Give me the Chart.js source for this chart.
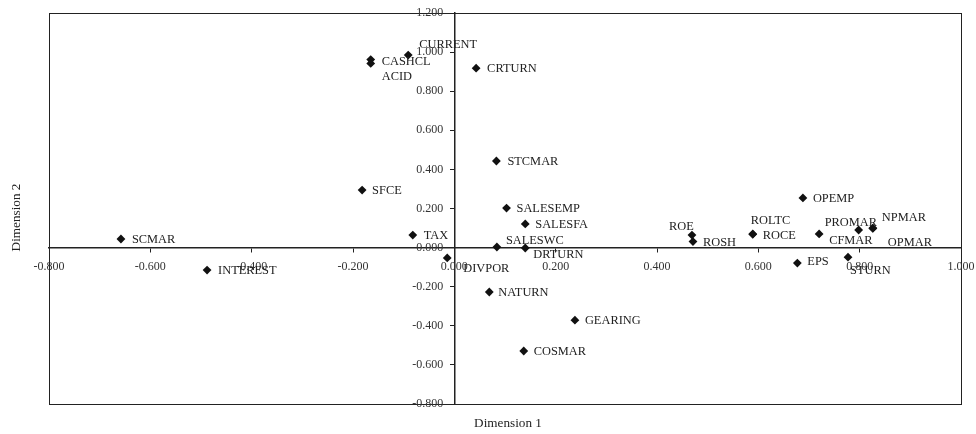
<!DOCTYPE html>
<html>
<head>
<meta charset="utf-8">
<script src="https://cdn.jsdelivr.net/npm/chart.js@4/dist/chart.umd.min.js"></script>
<style>
html,body{margin:0;padding:0;background:#fff;}
#wrap{width:976px;height:434px;}
</style>
</head>
<body>
<div id="wrap"><canvas id="c" width="976" height="434"></canvas></div>
<script>
// ---- data ----
const names = ["SCMAR","INTEREST","SFCE","TAX","CASHCL","ACID","CURRENT","CRTURN","DIVPOR","STCMAR","SALESEMP","SALESFA","SALESWC","DRTURN","NATURN","GEARING","COSMAR","ROE","ROSH","ROLTC","ROCE","OPEMP","CFMAR","PROMAR","NPMAR","OPMAR","EPS","STURN"];
const dim1 = [-0.658,-0.488,-0.182,-0.082,-0.165,-0.165,-0.091,0.043,-0.014,0.083,0.103,0.140,0.084,0.140,0.069,0.238,0.137,0.469,0.471,0.589,0.589,0.688,0.720,0.798,0.826,0.826,0.677,0.777];
const dim2 = [0.044,-0.115,0.294,0.064,0.962,0.942,0.985,0.918,-0.053,0.443,0.202,0.121,0.003,-0.002,-0.227,-0.371,-0.529,0.064,0.031,0.070,0.068,0.254,0.070,0.090,0.100,0.098,-0.079,-0.049];
const xTicks = [-0.8,-0.6,-0.4,-0.2,0,0.2,0.4,0.6,0.8,1.0];
const yTicks = [-0.8,-0.6,-0.4,-0.2,0,0.2,0.4,0.6,0.8,1.0,1.2];
const xTitle = "Dimension 1";
const yTitle = "Dimension 2";

// ---- label placement (pixel offsets from marker, styling only) ----
const labelOffsets = {
  SCMAR:[11,1], INTEREST:[11,1], SFCE:[10,1], TAX:[11,1], CASHCL:[11,2], ACID:[11,13],
  CURRENT:[11,-10], CRTURN:[11,1], DIVPOR:[16,11], STCMAR:[11,1], SALESEMP:[10,1], SALESFA:[10,1],
  SALESWC:[9,-6], DRTURN:[8,7], NATURN:[9,1], GEARING:[10,1], COSMAR:[10,1], ROE:[-23,-8],
  ROSH:[10,1], ROLTC:[-2,-13], ROCE:[10,1], OPEMP:[10,1], CFMAR:[10,7], PROMAR:[-34,-7],
  NPMAR:[9,-10], OPMAR:[15,14], EPS:[10,-1], STURN:[2,14]
};

const points = names.map((n,i)=>({x:dim1[i], y:dim2[i]}));
const SERIF = "'Liberation Serif','Times New Roman',serif";
const fmt = v => { const r = Math.round(v*1000)/1000; return (r === 0 ? 0 : r).toFixed(3); };

const overlay = {
  id:'overlay',
  afterDraw(chart){
    const ctx = chart.ctx, a = chart.chartArea;
    ctx.save();
    // frame
    ctx.strokeStyle = '#222';
    ctx.lineWidth = 1;
    ctx.strokeRect(Math.round(a.left)+0.5, Math.round(a.top)+0.5, Math.round(a.right-a.left), Math.round(a.bottom-a.top));
    // tick labels next to the zero-positioned axes
    const xs = chart.scales.x, ys = chart.scales.y;
    const x0 = xs.getPixelForValue(0), y0 = ys.getPixelForValue(0);
    ctx.fillStyle = '#333';
    ctx.font = "12px " + SERIF;
    ctx.textAlign = 'right';
    ctx.textBaseline = 'middle';
    yTicks.forEach(v => ctx.fillText(fmt(v), x0 - 11, ys.getPixelForValue(v)));
    ctx.textAlign = 'center';
    ctx.textBaseline = 'top';
    xTicks.forEach(v => ctx.fillText(fmt(v), xs.getPixelForValue(v), y0 + 13));
    // point labels
    const meta = chart.getDatasetMeta(0);
    ctx.fillStyle = '#222';
    ctx.font = "12.4px " + SERIF;
    ctx.textAlign = 'left';
    ctx.textBaseline = 'middle';
    meta.data.forEach((el,i)=>{
      const off = labelOffsets[names[i]] || [10,0];
      ctx.fillText(names[i], el.x + off[0], el.y + off[1]);
    });
    // axis titles
    ctx.font = "13.2px " + SERIF;
    ctx.textAlign = 'center';
    ctx.fillText(xTitle, (a.left + a.right)/2 + 3, 424);
    ctx.translate(17, (a.top + a.bottom)/2 + 9);
    ctx.rotate(-Math.PI/2);
    ctx.fillText(yTitle, 0, 0);
    ctx.restore();
  }
};

new Chart(document.getElementById('c'), {
  type:'scatter',
  data:{ datasets:[{
    data: points,
    pointStyle:'rectRot',
    radius:4.4,
    hoverRadius:4.4,
    backgroundColor:'#111',
    borderColor:'#111',
    borderWidth:0
  }]},
  options:{
    responsive:false,
    animation:false,
    devicePixelRatio:1,
    layout:{ padding:{ left:49, right:15, top:13, bottom:30 } },
    plugins:{ legend:{display:false}, tooltip:{enabled:false} },
    scales:{
      x:{
        type:'linear',
        position:{ y:0 },
        min:xTicks[0], max:xTicks[xTicks.length-1],
        afterBuildTicks: s => { s.ticks = xTicks.map(v=>({value:v})); },
        ticks:{ display:false },
        grid:{ drawOnChartArea:false, drawTicks:true, tickLength:4, color:'#222', lineWidth:1 },
        border:{ display:true, color:'#222', width:1.5 }
      },
      y:{
        type:'linear',
        position:{ x:0 },
        min:yTicks[0], max:yTicks[yTicks.length-1],
        afterBuildTicks: s => { s.ticks = yTicks.map(v=>({value:v})); },
        ticks:{ display:false },
        grid:{ drawOnChartArea:false, drawTicks:true, tickLength:4, color:'#222', lineWidth:1 },
        border:{ display:true, color:'#222', width:1.5 }
      }
    }
  },
  plugins:[overlay]
});
</script>
</body>
</html>
